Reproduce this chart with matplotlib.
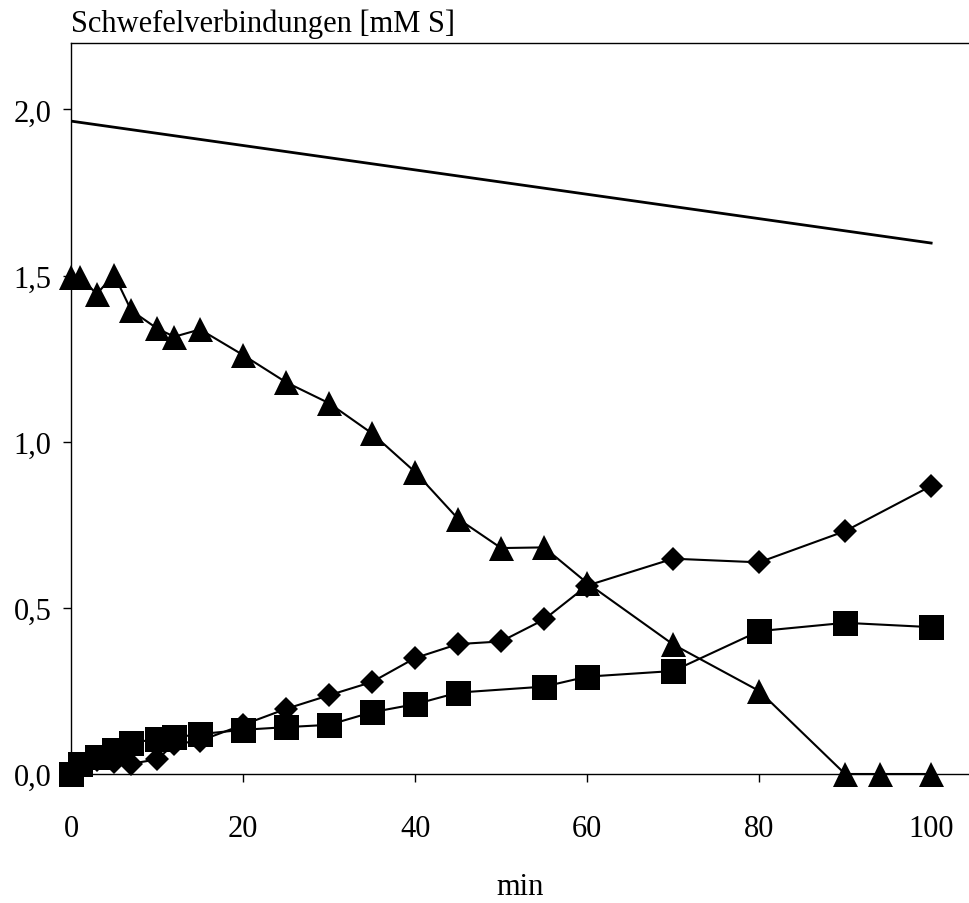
import matplotlib
matplotlib.use("Agg")
import matplotlib.pyplot as plt
from matplotlib.ticker import FuncFormatter

plt.rcParams['font.family'] = ['Liberation Serif', 'DejaVu Serif']

# Zeitpunkte der Probenahme [min]
zeit_dreieck = [0, 1, 3, 5, 7, 10, 12, 15, 20, 25, 30, 35, 40, 45, 50, 55, 60, 70, 80, 90, 94, 100]
zeit_raute = [0, 1, 3, 5, 7, 10, 12, 15, 20, 25, 30, 35, 40, 45, 50, 55, 60, 70, 80, 90, 100]
zeit_quadrat = [0, 1, 3, 5, 7, 10, 12, 15, 20, 25, 30, 35, 40, 45, 55, 60, 70, 80, 90, 100]

# Konzentrationen [mM S]
werte_dreieck = [1.495, 1.495, 1.445, 1.503, 1.395, 1.341, 1.316, 1.338, 1.261, 1.179, 1.116,
                 1.025, 0.909, 0.768, 0.680, 0.682, 0.575, 0.390, 0.250, 0.0, 0.0, 0.0]
werte_raute = [0.0, 0.030, 0.042, 0.036, 0.031, 0.044, 0.090, 0.100, 0.148, 0.196, 0.237,
               0.277, 0.349, 0.391, 0.399, 0.465, 0.567, 0.648, 0.637, 0.731, 0.867]
werte_quadrat = [0.0, 0.031, 0.051, 0.072, 0.094, 0.105, 0.110, 0.120, 0.133, 0.141, 0.148,
                 0.186, 0.210, 0.245, 0.263, 0.293, 0.310, 0.430, 0.455, 0.442]

# Summenlinie (Anfang / Ende)
zeit_summe = [0, 100]
werte_summe = [1.965, 1.598]

fig = plt.figure(figsize=(9.69, 9.04), dpi=100)
ax = fig.add_axes([0.0733, 0.1427, 0.9267, 0.8086])

ax.plot(zeit_summe, werte_summe, color='black', linewidth=2.0)
ax.plot(zeit_raute, werte_raute, color='black', linewidth=1.5, marker='D',
        markersize=12.5, markerfacecolor='black', markeredgewidth=0, clip_on=False)
ax.plot(zeit_quadrat, werte_quadrat, color='black', linewidth=1.5, marker='s',
        markersize=18, markerfacecolor='black', markeredgewidth=0, clip_on=False)
ax.plot(zeit_dreieck, werte_dreieck, color='black', linewidth=1.5, marker='^',
        markersize=18, markerfacecolor='black', markeredgewidth=0, clip_on=False)

ax.set_xlim(0, 104.4)
ax.set_ylim(0, 2.2)
ax.set_xticks([0, 20, 40, 60, 80, 100])
ax.set_yticks([0, 0.5, 1.0, 1.5, 2.0])
ax.yaxis.set_major_formatter(FuncFormatter(lambda v, p: f"{v:.1f}".replace('.', ',')))

ax.spines['right'].set_visible(False)
for s in ['left', 'bottom', 'top']:
    ax.spines[s].set_linewidth(1.0)

ax.tick_params(axis='both', direction='out', length=6, width=1.0, labelsize=22)
ax.tick_params(axis='y', pad=8)
ax.tick_params(axis='x', pad=22.5)

ax.set_xlabel('min', fontsize=22, labelpad=21)
fig.text(0.0733, 0.965, 'Schwefelverbindungen [mM S]', fontsize=22, ha='left', va='baseline')

fig.savefig('out.png', dpi=100)
